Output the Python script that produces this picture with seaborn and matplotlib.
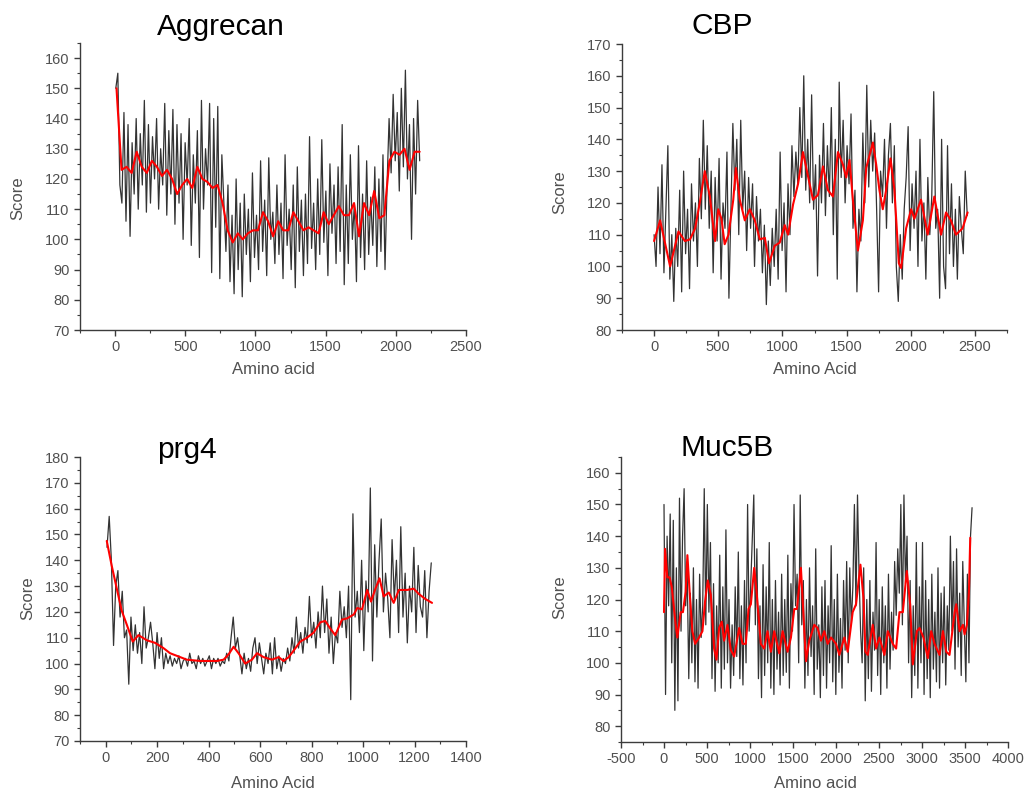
import numpy as np
import pandas as pd
import matplotlib
matplotlib.use("Agg")
import matplotlib.pyplot as plt
from matplotlib.ticker import MultipleLocator
import seaborn as sns

# ---------------- data ----------------
# Aggrecan: raw per-residue score (black) and smoothed profile (red)
agg_range = (5, 2170)
agg_score = [
    150, 155, 118, 112, 142, 106, 138, 101, 132, 115, 140, 110, 135, 118, 146, 109,
    138, 112, 134, 120, 140, 110, 130, 118, 145, 108, 136, 115, 143, 105, 138, 112,
    135, 100, 132, 118, 140, 98, 128, 112, 136, 94, 146, 110, 130, 118, 145, 89,
    140, 104, 144, 87, 128,
    112, 96, 118, 86, 108, 82, 120, 90, 112, 81, 115, 95, 110, 86, 122, 94, 108, 90,
    126, 96, 113, 88, 127, 100, 109, 92, 118, 95, 112, 87, 128, 98, 110, 90, 118, 84,
    124, 96, 113, 88, 115, 92, 134, 97, 112, 90, 120, 95, 133, 99, 116, 88, 125, 102,
    118, 92, 124, 96, 138, 85, 118, 92, 128, 100, 112, 86, 131, 94, 115, 90, 126, 95,
    114, 98, 124, 91, 120, 96, 128, 90,
    118, 140, 122, 148, 126, 142, 116, 150, 124, 156, 120, 138, 100, 140, 115, 146, 126,
]
agg_smooth_range = (10, 2170)
agg_smooth = [
    150, 123, 124, 122, 129, 124, 122, 126, 124, 121, 123, 120, 115, 118, 120, 117,
    124, 120, 119, 117, 118, 112, 103, 99, 102, 100, 102, 103, 103, 109, 106, 101,
    106, 103, 103, 109, 106, 103, 104, 103, 102, 109, 105, 108, 111, 108, 108, 112,
    101, 112, 108, 116, 107, 108, 126, 129, 128, 130, 123, 129, 129,
]

# CBP
cbp_range = (0, 2440)
cbp_score = [
    110, 100, 125, 104, 132, 98, 118, 138, 96, 110,
    89, 112, 100, 124, 92, 130, 104, 118, 93, 126,
    108, 120, 100, 134, 115, 146, 118, 138, 112, 130,
    98, 128, 108, 134, 96, 120, 112, 136, 90, 118,
    145, 124, 140, 110, 146, 118, 130, 105, 128, 112,
    126, 100, 122, 108, 118, 98, 113, 88, 108, 94,
    112, 100, 118, 96, 136, 105, 120, 92, 126, 110,
    138, 122, 136, 126, 150, 128, 160, 124, 140, 120,
    154, 118, 132, 97, 135, 120, 145, 116, 138, 122,
    150, 110, 140, 96, 158, 128, 146, 120, 138, 126,
    148, 112, 124, 92, 118, 108, 142, 120, 157, 125,
    146, 130, 142, 118, 92, 130, 122, 140, 112, 135,
    145, 120, 138, 100, 89, 110, 96, 118, 128, 144,
    105, 126, 112, 130, 100, 140, 108, 120, 96, 128,
    110, 122, 155, 112, 118, 90, 140, 100, 93, 138,
    104, 126, 100, 118, 96, 122, 112, 104, 130, 116,
]
cbp_smooth_pos = [
    0, 47, 125, 190, 240, 280, 320, 360, 395, 435, 460, 475, 500, 525, 550, 580,
    617, 637, 668, 707, 746, 785, 824, 863, 896, 940, 979, 1018, 1044, 1083, 1122,
    1160, 1186, 1238, 1277, 1316, 1355, 1394, 1433, 1472, 1497, 1523, 1549, 1588,
    1627, 1653, 1705, 1731, 1756, 1782, 1808, 1842, 1873, 1907, 1925, 1964, 2003,
    2028, 2080, 2132, 2184, 2236, 2275, 2313, 2352, 2404, 2443,
]
cbp_smooth = [
    108, 114.5, 100, 111, 108, 108.5, 112, 121, 130, 122, 113, 108, 118, 115, 107,
    110, 121, 131, 121, 114.5, 118, 114.5, 108.5, 109, 101, 106.5, 107.5, 113, 110,
    119.5, 126, 136, 131, 121, 122.5, 131.5, 124, 122, 136, 132, 128, 133.5, 121,
    105, 114.5, 131, 139, 132, 124, 118, 124, 134, 124, 101, 99.5, 112, 118, 115,
    121, 110, 122, 110, 117, 114.5, 110, 112, 117,
]

# prg4
prg_range = (5, 1265)
prg_score = [
    145, 157, 140, 107, 130, 136, 118, 128, 110, 113,
    92, 118, 105, 115, 104, 112, 100, 122, 106, 110,
    116, 108, 98, 112, 102, 110, 98, 104, 100, 103,
    99, 102, 100, 103, 98, 101, 102, 99, 104, 100,
    101, 98, 103, 100, 102, 99, 101, 103, 98, 102,
    100, 102, 99, 101, 100, 104, 101, 110, 118, 106,
    110, 103, 96, 104, 98, 102, 97, 106, 110, 100,
    108, 102, 96, 104, 100, 108, 96, 110, 98, 103,
    97, 102, 100, 106, 101, 110, 104, 118, 106, 112,
    104, 114, 108, 126, 110, 116, 106, 120, 110, 130,
    112, 125, 104, 118, 100, 112, 108, 128, 114, 122,
    110, 130, 86, 158, 118, 128, 112, 140, 105, 132,
    120, 168, 101, 146, 118, 140, 156, 120, 135, 125,
    110, 148, 125, 140, 112, 153, 118, 135, 108, 130,
    120, 145, 112, 138, 122, 118, 136, 110, 128, 139,
]
prg_smooth_pos = [
    4, 23, 43, 62, 82, 105, 127, 160, 192, 224, 250, 276, 315, 367, 432, 458, 477,
    497, 516, 542, 568, 588, 613, 646, 672, 691, 711, 730, 756, 782, 808, 834, 853,
    873, 892, 918, 938, 964, 977, 996, 1016, 1031, 1048, 1064, 1080, 1100, 1119,
    1139, 1171, 1197, 1216, 1242, 1268,
]
prg_smooth = [
    147.5, 138, 129, 120.5, 115, 108.5, 111, 109, 108, 106, 104, 103, 101.5, 101,
    101, 101.5, 103.5, 106.5, 104, 100, 101.5, 104, 102.5, 101.5, 102.5, 101, 102.5,
    105, 108.5, 110, 112, 116, 116.5, 113.5, 111, 117, 117.5, 119, 121.5, 121, 128.5,
    124, 129, 133, 126, 127.5, 123.5, 128.5, 128.5, 129, 127, 125, 123.5,
]

# Muc5B
muc_range = (0, 3582)
muc_score = [
    150, 90, 140, 118, 147, 100, 145, 85, 130, 88,
    152, 110, 140, 155, 118, 128, 95, 122, 100, 130,
    94, 120, 92, 128, 108, 118, 155, 112, 150, 116,
    138, 95, 125, 91, 118, 100, 134, 92, 124, 98,
    142, 100, 120, 92, 112, 96, 124, 102, 135, 95,
    118, 93, 126, 100, 150, 110, 124, 138, 153, 112,
    136, 95, 118, 89, 131, 96, 124, 100, 138, 92,
    120, 90, 126, 98, 116, 93, 128, 96, 120, 97,
    134, 92, 125, 110, 150, 118, 128, 100, 153, 112,
    126, 92, 120, 96, 130, 102, 118, 90, 136, 98,
    112, 89, 124, 96, 126, 92, 118, 100, 137, 94,
    120, 90, 128, 97, 114, 92, 126, 104, 132, 100,
    130, 112, 124, 150, 118, 153, 128, 110, 100, 130,
    88, 120, 95, 126, 91, 116, 104, 138, 96, 120,
    90, 124, 100, 118, 92, 128, 98, 116, 104, 132,
    115, 136, 122, 150, 112, 153, 125, 140, 100, 126,
    89, 118, 96, 138, 92, 124, 100, 138, 90, 126,
    95, 120, 89, 128, 98, 116, 94, 130, 92, 122,
    100, 124, 93, 118, 104, 140, 110, 132, 98, 136,
    105, 122, 96, 132, 112, 94, 128, 100, 140, 149,
]
muc_smooth_pos = [
    0, 12, 39, 65, 90, 136, 155, 194, 220, 252, 272, 300, 330, 362, 408, 447, 478,
    509, 544, 583, 610, 641, 672, 699, 738, 777, 816, 874, 913, 951, 983, 1010, 1049,
    1076, 1126, 1165, 1204, 1243, 1282, 1340, 1379, 1437, 1476, 1515, 1546, 1592,
    1620, 1651, 1689, 1748, 1786, 1825, 1864, 1903, 1942, 2000, 2039, 2097, 2136,
    2194, 2233, 2284, 2319, 2342, 2369, 2427, 2466, 2505, 2563, 2602, 2660, 2699,
    2738, 2777, 2823, 2862, 2893, 2940, 2971, 3017, 3068, 3107, 3146, 3204, 3243,
    3282, 3320, 3379, 3398, 3437, 3476, 3495, 3522, 3546, 3561,
]
muc_smooth = [
    116, 136, 127, 127, 124, 112, 108, 116, 116, 122.5, 134, 121.5, 110, 106, 108,
    110, 119.5, 126, 121.5, 104.5, 101, 111, 113, 107, 112, 104, 102, 111, 106, 106,
    117, 118.5, 130, 122.5, 106, 104.5, 110, 103.5, 110, 103, 110, 103.5, 108, 117,
    117, 130, 116, 100.5, 107, 112, 111, 107, 110, 106, 108, 106, 102.5, 108, 103.5,
    116, 118.5, 131, 120.5, 103.5, 102.5, 112, 104.5, 108, 102.5, 110, 106, 104.5,
    116, 116, 129, 118.5, 99.5, 110, 111, 108, 101.5, 110, 106, 102.5, 110, 103.5,
    102.5, 116, 118.5, 110, 112, 109, 112, 122.5, 139.5,
]

# ---------------- style ----------------
sns.set_style("ticks")
plt.rcParams["font.family"] = ["Liberation Sans", "DejaVu Sans"]
plt.rcParams["axes.unicode_minus"] = False

TEXT_GRAY = "#505050"
AXIS_GRAY = "#3c3c3c"

fig = plt.figure(figsize=(10.26, 7.94), dpi=100)


def panel(rect, raw_x, raw_y, sm_x, sm_y, xlim, ylim, xmaj, title, title_xy,
          xlabel, xlabel_xy, ylabel_xy):
    ax = fig.add_axes(rect)
    raw = pd.DataFrame({"pos": raw_x, "score": raw_y})
    sm = pd.DataFrame({"pos": sm_x, "score": sm_y})
    sns.lineplot(data=raw, x="pos", y="score", ax=ax, color="black",
                 linewidth=0.9, alpha=0.8, estimator=None, sort=False)
    sns.lineplot(data=sm, x="pos", y="score", ax=ax, color="#ff0000",
                 linewidth=1.5, estimator=None, sort=False)
    ax.set_xlim(*xlim)
    ax.set_ylim(*ylim)
    ax.xaxis.set_major_locator(MultipleLocator(xmaj))
    ax.xaxis.set_minor_locator(MultipleLocator(xmaj / 2))
    ax.yaxis.set_major_locator(MultipleLocator(10))
    ax.yaxis.set_minor_locator(MultipleLocator(5))
    ax.set_xlabel("")
    ax.set_ylabel("")
    sns.despine(ax=ax)
    for s in ("left", "bottom"):
        ax.spines[s].set_color(AXIS_GRAY)
        ax.spines[s].set_linewidth(1.0)
    ax.tick_params(which="major", direction="out", length=4, width=1.0,
                   color=AXIS_GRAY, labelsize=10.5, labelcolor=TEXT_GRAY, pad=3.5)
    ax.tick_params(which="minor", direction="out", length=2.5, width=0.8,
                   color=AXIS_GRAY)
    W, H = 1026.0, 794.0
    fig.text(title_xy[0] / W, 1 - title_xy[1] / H, title, ha="center",
             va="baseline", fontsize=21.5, color="black")
    fig.text(xlabel_xy[0] / W, 1 - xlabel_xy[1] / H, xlabel, ha="center",
             va="center", fontsize=12, color=TEXT_GRAY)
    fig.text(ylabel_xy[0] / W, 1 - ylabel_xy[1] / H, "Score", ha="center",
             va="center", rotation=90, fontsize=12, color=TEXT_GRAY)
    return ax


panel([80 / 1026, 1 - 330 / 794, 386 / 1026, 287 / 794],
      np.linspace(*agg_range, len(agg_score)), agg_score,
      np.linspace(*agg_smooth_range, len(agg_smooth)), agg_smooth,
      (-250, 2500), (70, 165), 500, "Aggrecan", (221, 35),
      "Amino acid", (273, 370), (18, 198))

panel([622 / 1026, 1 - 330 / 794, 385 / 1026, 286 / 794],
      np.linspace(*cbp_range, len(cbp_score)), cbp_score,
      cbp_smooth_pos, cbp_smooth,
      (-250, 2750), (80, 170), 500, "CBP", (722, 34),
      "Amino Acid", (815, 370), (560, 192))

panel([80 / 1026, 1 - 741 / 794, 386 / 1026, 284 / 794],
      np.linspace(*prg_range, len(prg_score)), prg_score,
      prg_smooth_pos, prg_smooth,
      (-100, 1400), (70, 180), 200, "prg4", (187, 458),
      "Amino Acid", (273, 784), (28, 598))

panel([621 / 1026, 1 - 742 / 794, 387 / 1026, 285 / 794],
      np.linspace(*muc_range, len(muc_score)), muc_score,
      muc_smooth_pos, muc_smooth,
      (-500, 4000), (75, 165), 500, "Muc5B", (727, 456),
      "Amino acid", (815, 784), (560, 597))

fig.savefig("out.png", dpi=100)
